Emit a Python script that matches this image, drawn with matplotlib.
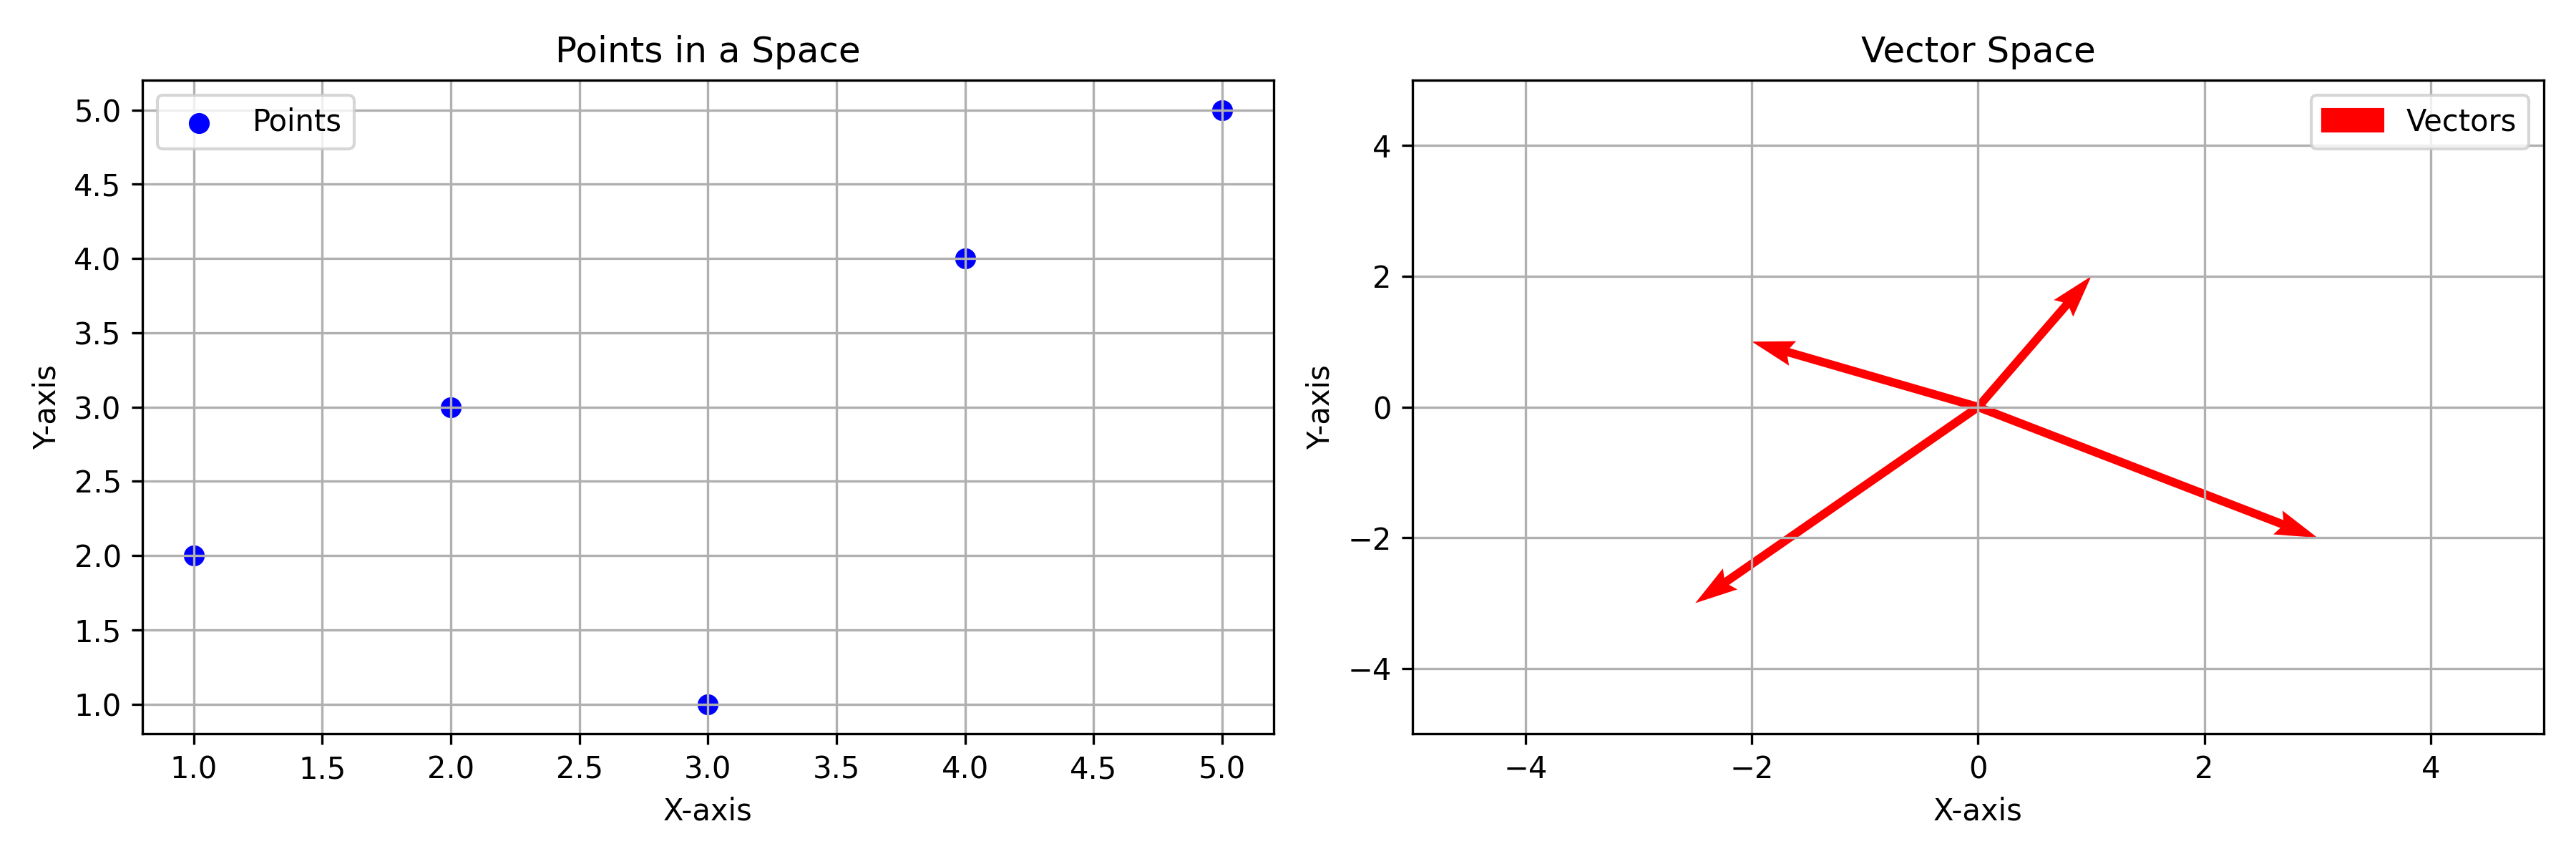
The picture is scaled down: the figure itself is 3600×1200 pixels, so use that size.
import matplotlib
matplotlib.use("Agg")
import matplotlib.pyplot as plt
from matplotlib.patches import Patch

# points
px = [1, 2, 3, 4, 5]
py = [2, 3, 1, 4, 5]

# vectors from origin
vx = [1, -2, 3, -2.5]
vy = [2, 1, -2, -3]

fig, (ax1, ax2) = plt.subplots(1, 2, figsize=(12, 4))

ax1.scatter(px, py, color="blue", label="Points")
ax1.set_title("Points in a Space")
ax1.set_xlabel("X-axis")
ax1.set_ylabel("Y-axis")
ax1.grid(True)
ax1.legend()

origin = [0] * len(vx)
ax2.quiver(origin, origin, vx, vy, angles="xy", scale_units="xy", scale=1,
           color="r")
ax2.set_xlim(-5, 5)
ax2.set_ylim(-5, 5)
ax2.set_title("Vector Space")
ax2.set_xlabel("X-axis")
ax2.set_ylabel("Y-axis")
ax2.grid(True)
# legend key drawn as a plain red box like the reference
ax2.legend(handles=[Patch(color="r", label="Vectors")])

plt.tight_layout()
plt.savefig("out.png", dpi=300)
